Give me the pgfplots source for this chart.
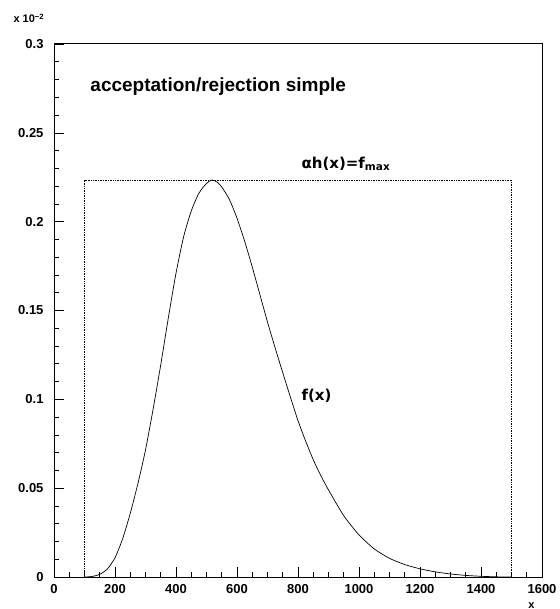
\documentclass[border=0pt]{standalone}
\usepackage{fontspec}
\setmainfont{Liberation Sans}
\newfontfamily\dejavu{DejaVu Sans}
\usepackage{pgfplots}
\pgfplotsset{compat=1.18}

% f(x), in units of 10^-2
\pgfplotstableread{
x     y
100   0
125   0.0003
150   0.0015
175   0.0045
200   0.0108
225   0.0215
250   0.0358
275   0.0525
300   0.0715
325   0.0945
350   0.1195
375   0.1460
400   0.1710
425   0.1915
450   0.2060
475   0.2160
500   0.2215
518   0.2235
535   0.2222
550   0.2195
575   0.2125
600   0.2020
625   0.1890
650   0.1745
675   0.1590
700   0.1435
725   0.1290
750   0.1150
775   0.1013
800   0.0880
825   0.0765
850   0.0660
875   0.0570
900   0.0490
950   0.0345
1000  0.0237
1050  0.0158
1100  0.0105
1150  0.0070
1200  0.0046
1250  0.0029
1300  0.0017
1350  0.0009
1400  0.0004
1450  0.0001
1500  0
}\fx

\begin{document}
\begin{tikzpicture}
\useasboundingbox (0,0) rectangle (560bp,609bp);
\begin{axis}[
  at={(54bp,32bp)}, anchor=south west,
  scale only axis, width=488bp, height=533bp,
  xmin=0, xmax=1600, ymin=0, ymax=0.3,
  xtick={0,200,...,1600},
  xticklabels={0,200,400,600,800,1000,1200,1400,1600},
  ytick={0,0.05,0.1,0.15,0.2,0.25,0.3},
  yticklabels={0,0.05,0.1,0.15,0.2,0.25,0.3},
  scaled ticks=false,
  minor x tick num=3, minor y tick num=4,
  tick align=inside, xtick pos=bottom, ytick pos=left,
  major tick length=10bp, minor tick length=5bp,
  axis line style={line width=1bp},
  every tick/.style={black, line width=0.6bp},
  ticklabel style={font=\fontsize{13bp}{13bp}\selectfont\bfseries},
  xticklabel style={yshift=-3.5bp},
  yticklabel style={xshift=-7bp},
  clip=false,
]
\addplot[densely dotted, line width=0.7bp] coordinates {
  (100,0) (100,0.2235) (1500,0.2235) (1500,0)
};
\addplot[black, line width=0.7bp, smooth, tension=0.4] table[x=x, y=y] {\fx};

\node[anchor=base west, font=\fontsize{19bp}{19bp}\selectfont\bfseries]
  at (axis cs:108,0.273) {acceptation/rejection simple};
\node[anchor=base west, font=\dejavu\bfseries\fontsize{15bp}{15bp}\selectfont]
  at (axis cs:800,0.2302) {αh(x)=f\textsubscript{max}};
\node[anchor=base west, font=\dejavu\bfseries\fontsize{15bp}{15bp}\selectfont]
  at (axis cs:800,0.0996) {f(x)};
\node[anchor=base west, font=\fontsize{11bp}{11bp}\selectfont\bfseries,
  xshift=-44bp, yshift=21bp] at (rel axis cs:0,1) {x 10\textsuperscript{−2}};
\node[anchor=base east, font=\fontsize{11bp}{11bp}\selectfont\bfseries,
  xshift=-4bp, yshift=-31bp] at (rel axis cs:1,0) {x};
\end{axis}
\end{tikzpicture}
\end{document}
